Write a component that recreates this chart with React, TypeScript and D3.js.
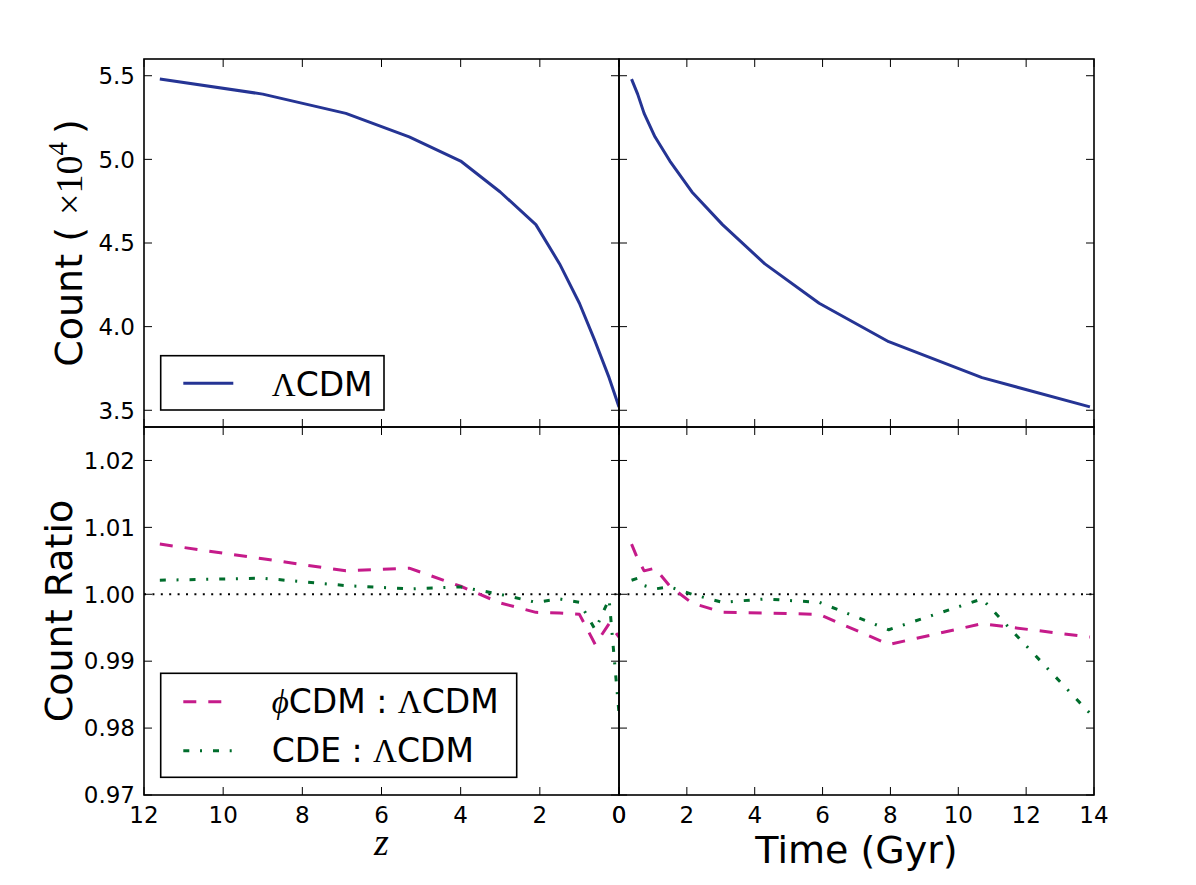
import * as d3 from "d3";

// snapshots (same halo catalogue seen against redshift and cosmic time)
const redshift = [11.6, 9.0, 6.9, 5.3, 4.0, 3.0, 2.1, 1.5, 1.0, 0.6, 0.25, 0.0];
const timeGyr = [0.37, 0.55, 0.74, 1.06, 1.5, 2.15, 3.05, 4.3, 5.9, 7.95, 10.7, 13.88];
const countLCDM = [5.48, 5.39, 5.275, 5.135, 4.99, 4.805, 4.61, 4.375, 4.14, 3.91, 3.695, 3.52];
const ratioPhiCDM = [1.0075, 1.0053, 1.0035, 1.0039, 1.0012, 0.9987, 0.9973, 0.9972, 0.997, 0.9925, 0.9956, 0.9936];
const ratioCDE = [1.0021, 1.0024, 1.0013, 1.0008, 1.0011, 1.0, 0.9988, 0.9993, 0.9988, 0.9947, 0.9993, 0.9822];

const zTicks = [12, 10, 8, 6, 4, 2, 0];
const timeTicks = [0, 2, 4, 6, 8, 10, 12, 14];
const countTicks = [3.5, 4.0, 4.5, 5.0, 5.5];
const ratioTicks = [0.97, 0.98, 0.99, 1.0, 1.01, 1.02];

const BLUE = "#253494";
const MAGENTA = "#c51b8a";
const GREEN = "#006d2c";
const SANS = "'DejaVu Sans', sans-serif";
const SERIF = "'Liberation Serif', 'DejaVu Serif', serif";

const L = 144, M = 619, R = 1094;
const T = 59, H = 427, B = 795;
const TICK = 8;

const xZ = d3.scaleLinear().domain([12, 0]).range([L, M]);
const xT = d3.scaleLinear().domain([0, 14]).range([M, R]);
const yC = d3.scaleLinear().domain([3.4, 5.6]).range([H, T]);
const yR = d3.scaleLinear().domain([0.97, 1.025]).range([B, H]);

interface Series { xs: number[]; ys: number[]; color: string; dash?: string; }

interface PanelProps {
    id: string;
    x: d3.ScaleLinear<number, number>;
    y: d3.ScaleLinear<number, number>;
    xTicks: number[];
    yTicks: number[];
    series: Series[];
    xLabels?: boolean;
    yLabels?: boolean;
    yFormat?: (v: number) => string;
    refLine?: number;
}

function Panel({ id, x, y, xTicks, yTicks, series, xLabels, yLabels, yFormat, refLine }: PanelProps) {
    const [x0, x1] = x.range();
    const [y0, y1] = y.range(); // y0 bottom, y1 top
    const left = Math.min(x0, x1), right = Math.max(x0, x1);
    const line = (s: Series) => d3.line<number>()
        .x((_, i) => x(s.xs[i]))
        .y((d) => y(d))(s.ys) || "";
    return (
        <g>
            <clipPath id={id}>
                <rect x={left} y={y1} width={right - left} height={y0 - y1} />
            </clipPath>
            <g clipPath={`url(#${id})`}>
                {refLine !== undefined && (
                    <line x1={left} x2={right} y1={y(refLine)} y2={y(refLine)}
                        stroke="#000" strokeWidth={2} strokeDasharray="2,6.4" />
                )}
                {series.map((s, i) => (
                    <path key={i} d={line(s)} fill="none" stroke={s.color} strokeWidth={3}
                        strokeDasharray={s.dash} strokeLinejoin="round" />
                ))}
            </g>
            {xTicks.map((t) => (
                <g key={"x" + t}>
                    <line x1={x(t)} x2={x(t)} y1={y0} y2={y0 - TICK} stroke="#000" strokeWidth={1} />
                    <line x1={x(t)} x2={x(t)} y1={y1} y2={y1 + TICK} stroke="#000" strokeWidth={1} />
                    {xLabels && (
                        <text x={x(t)} y={y0 + 28} textAnchor="middle" fontFamily={SANS} fontSize={23}>{t}</text>
                    )}
                </g>
            ))}
            {yTicks.map((t) => (
                <g key={"y" + t}>
                    <line x1={left} x2={left + TICK} y1={y(t)} y2={y(t)} stroke="#000" strokeWidth={1} />
                    <line x1={right} x2={right - TICK} y1={y(t)} y2={y(t)} stroke="#000" strokeWidth={1} />
                    {yLabels && (
                        <text x={left - 9} y={y(t) + 8.3} textAnchor="end" fontFamily={SANS} fontSize={23}>
                            {yFormat ? yFormat(t) : t}
                        </text>
                    )}
                </g>
            ))}
            <rect x={left} y={y1} width={right - left} height={y0 - y1} fill="none" stroke="#000" strokeWidth={1.6} />
        </g>
    );
}

export default function App() {
    const f1 = d3.format(".1f");
    const f2 = d3.format(".2f");
    const phiDash = "13,12";
    const cdeDash = "6,10.7,2,11";
    return (
        <svg width={1196} height={885} style={{ position: "absolute", left: 0, top: 0, background: "#fff" }}>
            <rect width={1196} height={885} fill="#fff" />
            <Panel id="c-tl" x={xZ} y={yC} xTicks={zTicks} yTicks={countTicks} yLabels yFormat={f1}
                series={[{ xs: redshift, ys: countLCDM, color: BLUE }]} />
            <Panel id="c-tr" x={xT} y={yC} xTicks={timeTicks} yTicks={countTicks}
                series={[{ xs: timeGyr, ys: countLCDM, color: BLUE }]} />
            <Panel id="c-bl" x={xZ} y={yR} xTicks={zTicks} yTicks={ratioTicks} xLabels yLabels yFormat={f2} refLine={1}
                series={[
                    { xs: redshift, ys: ratioPhiCDM, color: MAGENTA, dash: phiDash },
                    { xs: redshift, ys: ratioCDE, color: GREEN, dash: cdeDash },
                ]} />
            <Panel id="c-br" x={xT} y={yR} xTicks={timeTicks} yTicks={ratioTicks} xLabels refLine={1}
                series={[
                    { xs: timeGyr, ys: ratioPhiCDM, color: MAGENTA, dash: phiDash },
                    { xs: timeGyr, ys: ratioCDE, color: GREEN, dash: cdeDash },
                ]} />

            {/* axis labels */}
            <text transform={`translate(82,${(T + H) / 2}) rotate(-90)`} textAnchor="middle" fontFamily={SANS} fontSize={38}>
                Count (<tspan fontFamily={SERIF} dx={12}>×10</tspan>
                <tspan fontFamily={SERIF} fontSize={27} dy={-15}>4</tspan>
                <tspan dy={15} dx={8}>)</tspan>
            </text>
            <text transform={`translate(72,${(H + B) / 2}) rotate(-90)`} textAnchor="middle" fontFamily={SANS} fontSize={38}>
                Count Ratio
            </text>
            <text x={(L + M) / 2} y={855} textAnchor="middle" fontFamily={SERIF} fontStyle="italic" fontSize={38}>z</text>
            <text x={(M + R) / 2} y={862.7} textAnchor="middle" fontFamily={SANS} fontSize={38}>Time (Gyr)</text>

            {/* legend: top */}
            <rect x={160.7} y={355.7} width={223.3} height={54.3} fill="#fff" stroke="#000" strokeWidth={1.6} />
            <line x1={183.3} x2={233.3} y1={383.3} y2={383.3} stroke={BLUE} strokeWidth={3} />
            <text x={271.7} y={396} fontFamily={SANS} fontSize={33}>
                <tspan fontFamily={SERIF}>Λ</tspan>CDM
            </text>

            {/* legend: bottom */}
            <rect x={160.7} y={673.3} width={356} height={104} fill="#fff" stroke="#000" strokeWidth={1.6} />
            <line x1={183.3} x2={233.3} y1={701.7} y2={701.7} stroke={MAGENTA} strokeWidth={3} strokeDasharray={phiDash} />
            <line x1={183.3} x2={233.3} y1={750.7} y2={750.7} stroke={GREEN} strokeWidth={3} strokeDasharray={cdeDash} />
            <text x={271.7} y={713.3} fontFamily={SANS} fontSize={33}>
                <tspan fontFamily={SERIF} fontStyle="italic">ϕ</tspan>{"CDM : "}<tspan fontFamily={SERIF}>Λ</tspan>{"CDM"}
            </text>
            <text x={271.7} y={761.7} fontFamily={SANS} fontSize={33}>
                {"CDE : "}<tspan fontFamily={SERIF}>Λ</tspan>{"CDM"}
            </text>
        </svg>
    );
}
